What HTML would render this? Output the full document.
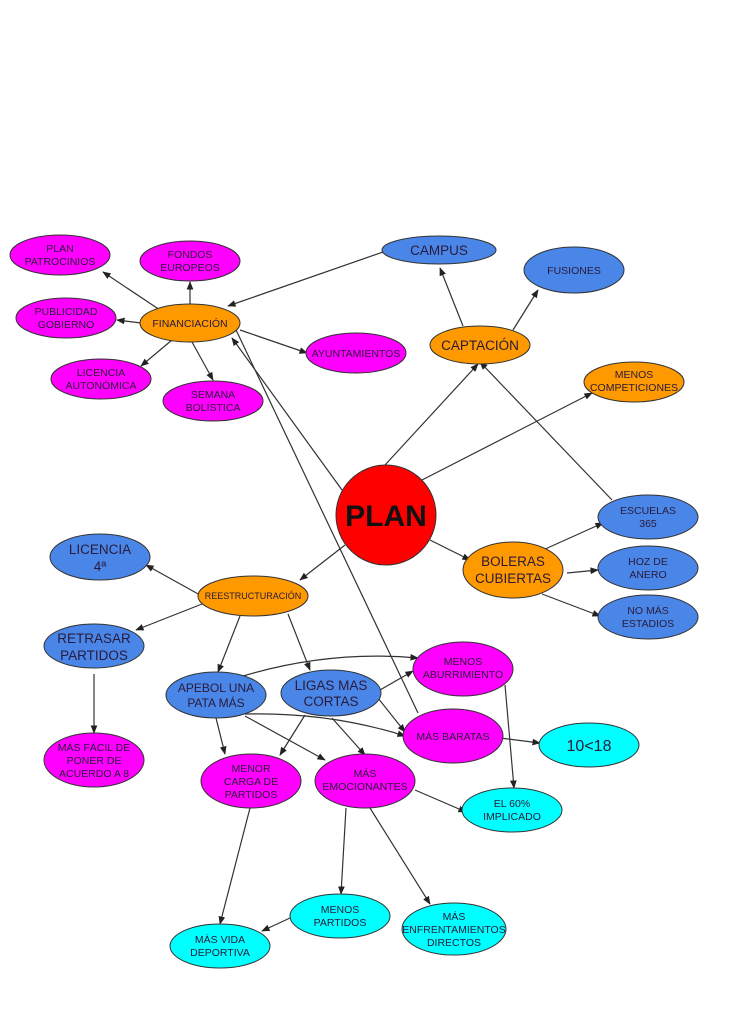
<!DOCTYPE html>
<html><head><meta charset="utf-8"><style>
html,body{margin:0;padding:0;background:#fff;}
svg{display:block}
text{font-family:"Liberation Sans",sans-serif;fill:#2a1a3a;text-anchor:middle}
</style></head><body>
<svg width="742" height="1024" viewBox="0 0 742 1024" xmlns="http://www.w3.org/2000/svg">
<defs><marker id="a" viewBox="0 0 10 10" refX="9" refY="5" markerWidth="7" markerHeight="7" orient="auto"><path d="M0,1 L10,5 L0,9 z" fill="#222"/></marker></defs>
<g stroke="#333" stroke-width="1.2" fill="none" marker-end="url(#a)">
<line x1="160" y1="310" x2="103" y2="272"/>
<line x1="190" y1="304" x2="190" y2="282"/>
<line x1="141" y1="323" x2="117" y2="320"/>
<line x1="172" y1="340" x2="141" y2="366"/>
<line x1="192" y1="342" x2="213" y2="380"/>
<line x1="240" y1="330" x2="307" y2="353"/>
<line x1="383" y1="252" x2="228" y2="306"/>
<line x1="342" y1="490" x2="232" y2="338"/>
<line x1="418" y1="713" x2="228" y2="313"/>
<line x1="463" y1="326" x2="440" y2="268"/>
<line x1="513" y1="330" x2="538" y2="290"/>
<line x1="385" y1="465" x2="478" y2="364"/>
<line x1="612" y1="500" x2="480" y2="362"/>
<line x1="422" y1="480" x2="592" y2="393"/>
<line x1="430" y1="540" x2="470" y2="560"/>
<line x1="543" y1="550" x2="603" y2="523"/>
<line x1="567" y1="573" x2="598" y2="570"/>
<line x1="542" y1="594" x2="600" y2="616"/>
<line x1="345" y1="545" x2="300" y2="580"/>
<line x1="200" y1="595" x2="146" y2="565"/>
<line x1="202" y1="604" x2="136" y2="630"/>
<line x1="240" y1="616" x2="218" y2="672"/>
<line x1="288" y1="614" x2="310" y2="670"/>
<line x1="94" y1="674" x2="94" y2="733"/>
<path d="M243,676 Q330,650 418,658"/>
<line x1="380" y1="690" x2="413" y2="671"/>
<line x1="378" y1="698" x2="405" y2="732"/>
<path d="M245,714 Q330,712 405,736"/>
<line x1="216" y1="718" x2="225" y2="754"/>
<line x1="245" y1="716" x2="325" y2="760"/>
<line x1="305" y1="715" x2="280" y2="755"/>
<line x1="332" y1="718" x2="365" y2="755"/>
<line x1="505" y1="685" x2="514" y2="788"/>
<line x1="500" y1="738" x2="540" y2="743"/>
<line x1="415" y1="790" x2="466" y2="812"/>
<line x1="250" y1="808" x2="220" y2="924"/>
<line x1="346" y1="808" x2="341" y2="894"/>
<line x1="370" y1="808" x2="430" y2="904"/>
<line x1="290" y1="918" x2="262" y2="931"/>
</g>
<g stroke="#333" stroke-width="1">
<ellipse cx="60" cy="255" rx="50" ry="20" fill="#f0f"/>
<ellipse cx="190" cy="261" rx="50" ry="20" fill="#f0f"/>
<ellipse cx="439" cy="250" rx="57" ry="14" fill="#4a86e8"/>
<ellipse cx="574" cy="270" rx="50" ry="23" fill="#4a86e8"/>
<ellipse cx="66" cy="318" rx="50" ry="20" fill="#f0f"/>
<ellipse cx="190" cy="323" rx="50" ry="19" fill="#f90"/>
<ellipse cx="356" cy="353" rx="50" ry="20" fill="#f0f"/>
<ellipse cx="480" cy="345" rx="50" ry="19" fill="#f90"/>
<ellipse cx="634" cy="382" rx="50" ry="20" fill="#f90"/>
<ellipse cx="101" cy="379" rx="50" ry="20" fill="#f0f"/>
<ellipse cx="213" cy="401" rx="50" ry="20" fill="#f0f"/>
<circle cx="386" cy="515" r="50" fill="#f00"/>
<ellipse cx="648" cy="517" rx="50" ry="22" fill="#4a86e8"/>
<ellipse cx="513" cy="570" rx="50" ry="28" fill="#f90"/>
<ellipse cx="648" cy="568" rx="50" ry="22" fill="#4a86e8"/>
<ellipse cx="100" cy="557" rx="50" ry="23" fill="#4a86e8"/>
<ellipse cx="253" cy="596" rx="55" ry="20" fill="#f90"/>
<ellipse cx="648" cy="617" rx="50" ry="22" fill="#4a86e8"/>
<ellipse cx="94" cy="646" rx="50" ry="22" fill="#4a86e8"/>
<ellipse cx="463" cy="669" rx="50" ry="27" fill="#f0f"/>
<ellipse cx="216" cy="695" rx="50" ry="23" fill="#4a86e8"/>
<ellipse cx="331" cy="693" rx="50" ry="23" fill="#4a86e8"/>
<ellipse cx="453" cy="736" rx="50" ry="27" fill="#f0f"/>
<ellipse cx="589" cy="745" rx="50" ry="22" fill="#0ff"/>
<ellipse cx="94" cy="760" rx="50" ry="27" fill="#f0f"/>
<ellipse cx="251" cy="781" rx="50" ry="27" fill="#f0f"/>
<ellipse cx="365" cy="781" rx="50" ry="27" fill="#f0f"/>
<ellipse cx="512" cy="810" rx="50" ry="22" fill="#0ff"/>
<ellipse cx="340" cy="916" rx="50" ry="22" fill="#0ff"/>
<ellipse cx="454" cy="929" rx="52" ry="26" fill="#0ff"/>
<ellipse cx="220" cy="946" rx="50" ry="22" fill="#0ff"/>
</g>
<g font-size="10.5">
<text x="60" y="252">PLAN</text><text x="60" y="265">PATROCINIOS</text>
<text x="190" y="258">FONDOS</text><text x="190" y="271">EUROPEOS</text>
<text x="66" y="315">PUBLICIDAD</text><text x="66" y="328">GOBIERNO</text>
<text x="190" y="327">FINANCIACIÓN</text>
<text x="356" y="357">AYUNTAMIENTOS</text>
<text x="634" y="378">MENOS</text><text x="634" y="391">COMPETICIONES</text>
<text x="101" y="376">LICENCIA</text><text x="101" y="389">AUTONÓMICA</text>
<text x="213" y="398">SEMANA</text><text x="213" y="411">BOLÍSTICA</text>
<text x="574" y="274">FUSIONES</text>
<text x="648" y="514">ESCUELAS</text><text x="648" y="527">365</text>
<text x="648" y="565">HOZ DE</text><text x="648" y="578">ANERO</text>
<text x="648" y="614">NO MÁS</text><text x="648" y="627">ESTADIOS</text>
<text x="253" y="599" font-size="9">REESTRUCTURACIÓN</text>
<text x="463" y="665">MENOS</text><text x="463" y="678">ABURRIMIENTO</text>
<text x="453" y="740">MÁS BARATAS</text>
<text x="94" y="751">MÁS FÁCIL DE</text><text x="94" y="764">PONER DE</text><text x="94" y="777">ACUERDO A 8</text>
<text x="251" y="772">MENOR</text><text x="251" y="785">CARGA DE</text><text x="251" y="798">PARTIDOS</text>
<text x="365" y="777">MÁS</text><text x="365" y="790">EMOCIONANTES</text>
<text x="512" y="807">EL 60%</text><text x="512" y="820">IMPLICADO</text>
<text x="340" y="913">MENOS</text><text x="340" y="926">PARTIDOS</text>
<text x="454" y="920">MÁS</text><text x="454" y="933">ENFRENTAMIENTOS</text><text x="454" y="946">DIRECTOS</text>
<text x="220" y="943">MÁS VIDA</text><text x="220" y="956">DEPORTIVA</text>
</g>
<g font-size="13.5">
<text x="439" y="255">CAMPUS</text>
<text x="480" y="350">CAPTACIÓN</text>
<text x="513" y="566">BOLERAS</text><text x="513" y="583">CUBIERTAS</text>
<text x="100" y="554">LICENCIA</text><text x="100" y="571">4ª</text>
<text x="94" y="643">RETRASAR</text><text x="94" y="660">PARTIDOS</text>
<text x="216" y="692" font-size="12">APEBOL UNA</text><text x="216" y="707" font-size="12">PATA MÁS</text>
<text x="331" y="690">LIGAS MAS</text><text x="331" y="706">CORTAS</text>
<text x="589" y="751" font-size="16">10&lt;18</text>
</g>
<text x="386" y="526" font-size="30" font-weight="bold" style="fill:#111">PLAN</text>
</svg>
</body></html>
